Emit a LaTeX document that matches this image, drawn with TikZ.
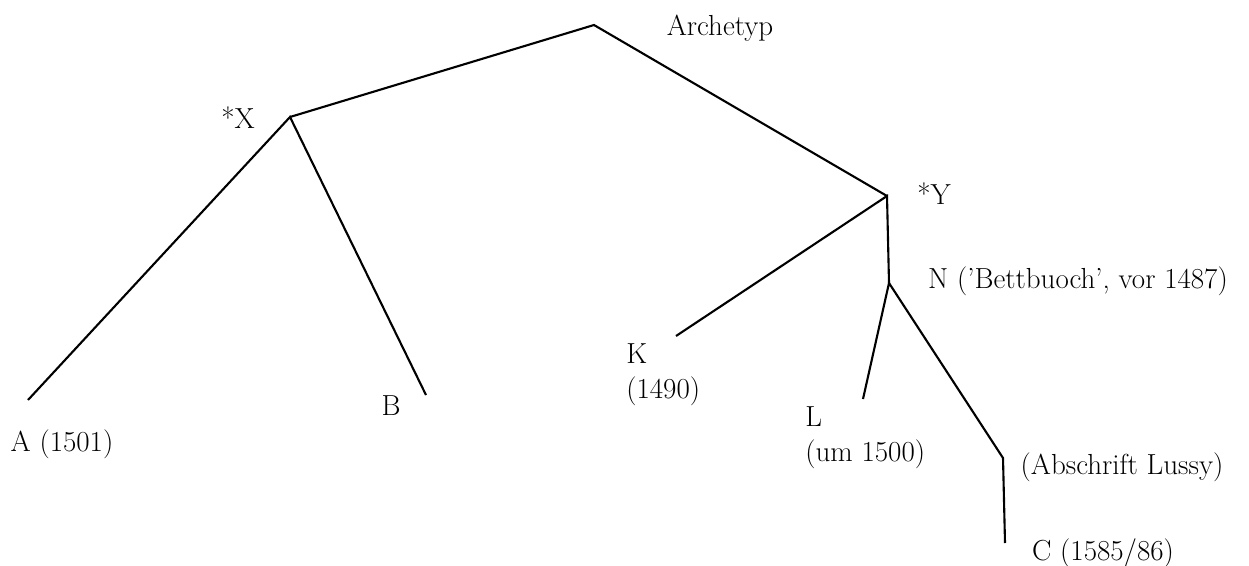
\documentclass[tikz,border=0pt]{standalone}
\usepackage{tikz}
\usetikzlibrary{positioning}

\begin{document}
\begin{tikzpicture}[x=0.2mm, y=-0.2mm,
lbl/.style={font=\fontsize{16.5}{20}\selectfont, inner sep=0pt, align=left},
edge/.style={line width=1.2pt, line join=miter} ]

\useasboundingbox (0,0) rectangle (1249,565);

% Junctions
\coordinate (arch) at (594,25);
\coordinate (x) at (290,117);
\coordinate (y) at (887,196);
\coordinate (n) at (889,283);
\coordinate (lussy) at (1003,458);

% Ends
\coordinate (a) at (28,400);
\coordinate (b) at (426,395);
\coordinate (k) at (676,336);
\coordinate (l) at (863,399);
\coordinate (c) at (1005,543);

% Labels
\node[lbl] (archlabel) at (720,28) {Archetyp};
\node[lbl] (xlabel) at (238,118) {*X};
\node[lbl] (ylabel) at (934,194) {*Y};
\node[lbl] (nlabel) at (1078,281) {N ('Bettbuoch', vor 1487)};
\node[lbl] (alabel) at (62,444) {A (1501)};
\node[lbl] (blabel) at (391,406) {B};
\node[lbl, anchor=north west] (klabel) at (626,343) {K\\(1490)};
\node[lbl, anchor=north west] (llabel) at (805,406) {L\\(um 1500)};
\node[lbl] (lussylabel) at (1122,467) {(Abschrift Lussy)};
\node[lbl] (clabel) at (1103,553) {C (1585/86)};

% Lines
\draw[edge] (x) -- (arch) -- (y);
\draw[edge] (a) -- (x) -- (b);
\draw[edge] (k) -- (y) -- (n);
\draw[edge] (l) -- (n) -- (lussy) -- (c);

\end{tikzpicture}
\end{document}
